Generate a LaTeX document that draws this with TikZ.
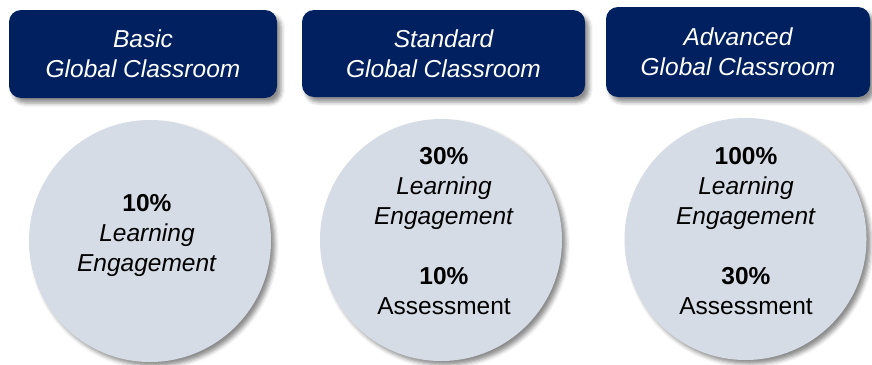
\documentclass[tikz,border=0pt]{standalone}
\usepackage{fontspec}
\setmainfont{Liberation Sans}
\usetikzlibrary{shadows.blur}
\definecolor{navy}{HTML}{002060}
\definecolor{paleblue}{HTML}{D6DCE5}
\begin{document}
\begin{tikzpicture}[x=1pt, y=-1pt,
  tier/.style={rectangle, rounded corners=12pt, fill=navy, text=white,
               align=center, font=\itshape\fontsize{24.5}{30}\selectfont,
               blur shadow={shadow xshift=4pt, shadow yshift=-5pt,
                            shadow blur radius=4pt, shadow opacity=45}},
  share/.style={circle, fill=paleblue, minimum size=242pt, inner sep=0pt,
                blur shadow={shadow xshift=4pt, shadow yshift=-4pt,
                             shadow blur radius=4pt, shadow opacity=45}},
  figures/.style={align=center, font=\fontsize{24.5}{30}\selectfont}
]
  \useasboundingbox (0,0) rectangle (872,364);

  % Tier headers
  \node[tier, minimum width=268pt, minimum height=88pt] (basic) at (143, 54)
    {Basic\\Global Classroom};
  \node[tier, minimum width=283pt, minimum height=87pt] (standard) at (443.5, 53.5)
    {Standard\\Global Classroom};
  \node[tier, minimum width=264pt, minimum height=90pt] (advanced) at (738, 52)
    {Advanced\\Global Classroom};

  % Shares
  \node[share] (cbasic) at (150, 241) {};
  \node[share] (cstandard) at (441, 240) {};
  \node[share] (cadvanced) at (745.5, 239) {};

  \node[figures] (tbasic) at (147, 235)
    {\textbf{10\%}\\\textit{Learning}\\\textit{Engagement}};
  \node[figures] (tstandard) at (444, 231)
    {\textbf{30\%}\\\textit{Learning}\\\textit{Engagement}\\[30pt]
     \textbf{10\%}\\Assessment};
  \node[figures] (tadvanced) at (746, 231)
    {\textbf{100\%}\\\textit{Learning}\\\textit{Engagement}\\[30pt]
     \textbf{30\%}\\Assessment};
\end{tikzpicture}
\end{document}
